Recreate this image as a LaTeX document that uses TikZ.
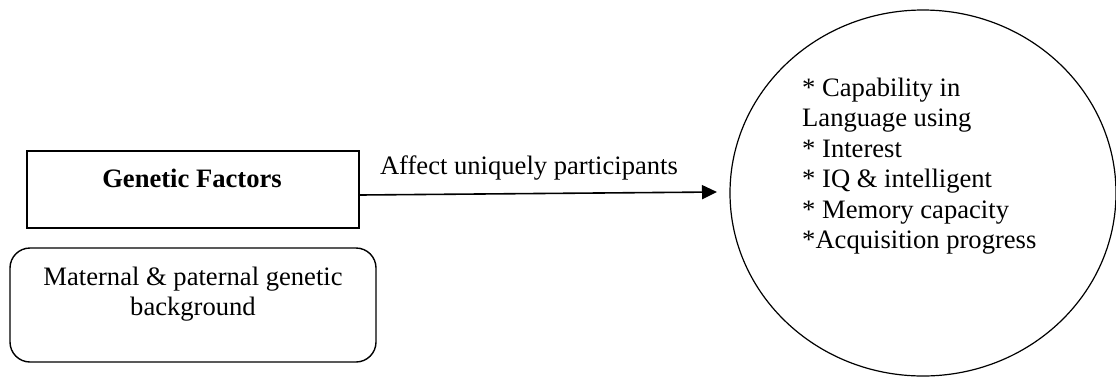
\documentclass[tikz,border=0pt]{standalone}
\usepackage{fontspec}
\setmainfont{Liberation Serif}
\usetikzlibrary{arrows.meta,shapes.geometric}
\begin{document}
\begin{tikzpicture}[x=1pt,y=-1pt,
  txt/.style={font=\fontsize{26.6}{30.5}\selectfont, inner sep=0pt},
  box/.style={draw, line width=1.6pt, minimum width=332pt, minimum height=77pt, inner sep=0pt},
  rbox/.style={draw, line width=1.4pt, rounded corners=20pt, minimum width=366pt, minimum height=114pt, inner sep=0pt},
  oval/.style={draw, ellipse, line width=1.2pt, minimum width=386pt, minimum height=366pt, inner sep=0pt},
  conn/.style={line width=1.6pt, -{Triangle[length=15pt,width=14pt]}}]
\useasboundingbox (0,0) rectangle (1116,376);
\node[box] (gf) at (193,189.5) {};
\node[txt, font=\fontsize{26.6}{30.5}\selectfont\bfseries] (gft) at (192,178) {Genetic Factors};
\node[rbox] (mp) at (193,305) {};
\node[txt, align=center] (mpt) at (193,294) {Maternal \& paternal genetic\\background};
\node[oval] (res) at (923,193) {};
\node[txt, align=left, anchor=west] (rest) at (802,166) {* Capability in\\Language using\\* Interest\\* IQ \& intelligent\\* Memory capacity\\*Acquisition progress};
\coordinate (tip) at (717,192);
\draw[conn] (gf.east |- 0,195) -- (tip);
\node[txt] (lab) at (529,168) {Affect uniquely participants};
\end{tikzpicture}
\end{document}
